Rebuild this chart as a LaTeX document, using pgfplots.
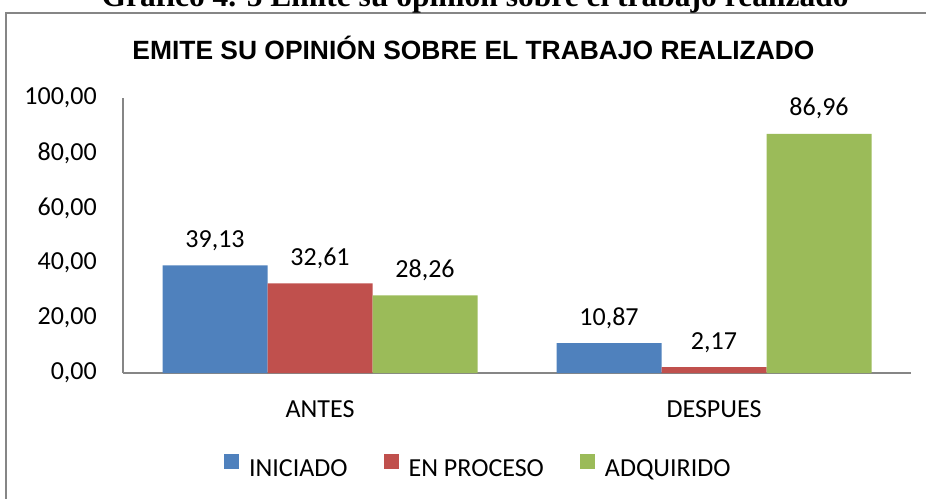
\documentclass[border=0pt]{standalone}
\usepackage{fontspec}
\setmainfont{Carlito}
\newfontfamily\arialfont{Liberation Sans}
\newfontfamily\timesfont{Liberation Serif}
\usepackage{pgfplots}
\pgfplotsset{compat=1.18}
\definecolor{cblue}{HTML}{4F81BD}
\definecolor{cred}{HTML}{C0504D}
\definecolor{cgreen}{HTML}{9BBB59}
\definecolor{axgray}{HTML}{868686}
\newcommand{\calf}{\fontsize{26}{30}\selectfont}
\begin{document}
\begin{tikzpicture}
\useasboundingbox (0pt,0pt) rectangle (926pt,-498pt);
\draw[axgray, line width=1.6pt] (6pt,-520pt) -- (6pt,-13pt) -- (950pt,-13pt);
\node[font={\timesfont\bfseries\fontsize{31.5}{35}\selectfont}, anchor=base] at (475pt,-6pt) {Gráfico 4. 5 Emite su opinión sobre el trabajo realizado};
\node[font={\arialfont\bfseries\fontsize{26.4}{30}\selectfont}, anchor=base, inner sep=0pt] at (473.5pt,-59pt) {EMITE SU OPINIÓN SOBRE EL TRABAJO REALIZADO};
\begin{axis}[
  at={(123pt,-373pt)}, anchor=south west,
  scale only axis, width=788pt, height=275pt,
  xmin=-0.5, xmax=1.5, ymin=0, ymax=100,
  axis x line=bottom, axis y line=left,
  axis line style={-, draw=axgray, line width=1.5pt},
  major tick length=0pt,
  ytick={0,20,40,60,80,100},
  xtick={0,1}, xticklabels={ANTES,DESPUES},
  /pgf/number format/assume math mode=true,
  yticklabel={\pgfmathprintnumber[fixed,fixed zerofill,precision=2,use comma,assume math mode=true]{\tick}},
  yticklabel style={font=\calf, anchor=east, inner sep=0pt, xshift=-26pt},
  xticklabel style={font=\calf, anchor=base, inner sep=0pt, yshift=-44pt},
  ybar=0pt, bar width=105pt,
  nodes near coords={\pgfmathprintnumber[fixed,fixed zerofill,precision=2,use comma,assume math mode=true]{\pgfplotspointmeta}},
  every node near coord/.append style={font=\calf, anchor=base, inner sep=0pt, yshift=18pt, text=black},
  legend image code/.code={\fill[#1] (0pt,0pt) rectangle (15pt,15pt);},
  legend columns=3,
  legend style={at={(0.128,-0.342)}, anchor=west, draw=none, fill=none, font=\calf, inner sep=0pt,
    /tikz/every odd column/.style={column sep=8pt},
    /tikz/every even column/.style={column sep=34pt}},
  legend cell align=left,
  clip=false,
]
\addplot[fill=cblue, draw=none] coordinates {(0,39.13) (1,10.87)};
\addplot[fill=cred, draw=none] coordinates {(0,32.61) (1,2.17)};
\addplot[fill=cgreen, draw=none] coordinates {(0,28.26) (1,86.96)};
\legend{INICIADO, EN PROCESO, ADQUIRIDO}
\end{axis}
\end{tikzpicture}
\end{document}
